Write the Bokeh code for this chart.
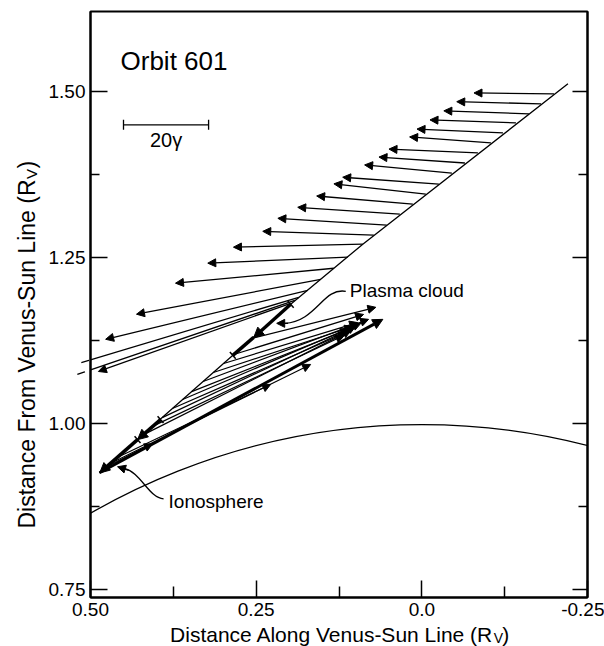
import numpy as np
from bokeh.plotting import figure
from bokeh.layouts import row, column
from bokeh.models import (Range1d, FixedTicker, CustomJSTickFormatter, PrintfTickFormatter,
                          LinearAxis, Arrow, NormalHead, TeeHead, ColumnDataSource, Label)
from bokeh.core.properties import value
from bokeh.embed import file_html
from bokeh.resources import INLINE

FONT = "Liberation Sans"
GAMMA = 0.1284 / 20.0   # R_V per gamma (length of the 20 gamma scale bar)

# ---- orbit track (R_V) ----
orbit_x = [-0.2205, 0.0891, 0.1979, 0.4864]
orbit_y = [1.512, 1.2704, 1.1798, 0.926]

# ---- field vectors above the plasma cloud (tail position, components in gamma) ----
up_x = [-0.1994, -0.1798, -0.1616, -0.1420, -0.1224, -0.1042, -0.0846, -0.0650, -0.0453,
        -0.0257, -0.0060, 0.0136, 0.0332, 0.0529, 0.0725, 0.0891, 0.1118, 0.1329, 0.1526,
        0.1722, 0.1858, 0.1918, 0.1979]
up_y = [1.4970, 1.4819, 1.4668, 1.4532, 1.4381, 1.4230, 1.4079, 1.3927, 1.3776, 1.3610,
        1.3459, 1.3308, 1.3157, 1.2991, 1.2840, 1.2704, 1.2508, 1.2341, 1.2175, 1.2009,
        1.1903, 1.1858, 1.1813]
up_bx = [18.8, 19.8, 20.0, 20.2, 20.2, 19.1, 20.9, 20.2, 20.5, 22.6, 21.6, 22.6, 24.0, 25.6,
         26.1, 30.4, 32.9, 37.2, 43.3, 47.5, 51.1, 51.1, 45.2]
up_by = [0.2, 0.5, 0.7, 0.7, 0.9, 1.4, 0.9, 1.4, 1.9, 1.6, 2.4, 1.9, 1.6, 1.6, 0.9, -0.7,
         -1.4, -3.5, -8.2, -11.5, -15.3, -17.4, -16.0]

# ---- field vectors below the plasma cloud ----
lo_x = [0.2562, 0.2837, 0.2991, 0.3147, 0.3301, 0.3473, 0.3610, 0.3764, 0.3918, 0.4073,
        0.4228, 0.4789, 0.4606, 0.4708]
lo_y = [1.1284, 1.1042, 1.0906, 1.0770, 1.0634, 1.0483, 1.0363, 1.0227, 1.0091, 0.9955,
        0.9819, 0.9335, 0.9486, 0.9396]
lo_bx = [-29.1, -30.5, -31.5, -32.8, -38.9, -36.9, -41.9, -41.0, -45.5, -45.1, -49.2,
         -11.3, -36.2, -47.2]
lo_by = [7.3, 9.4, 9.6, 10.8, 14.6, 14.6, 17.9, 17.9, 21.4, 21.4, 24.7, 5.6, 17.2, 23.3]

# heavy vector from the lowest point
hv_x, hv_y, hv_bx, hv_by = [0.4864], [0.926], [-66.6], [36.0]

# heavy vectors aligned with the orbit (plasma cloud and low altitude)
al_x = [0.1979, 0.3943, 0.4290]
al_y = [1.1798, 1.0060, 0.9758]
al_bx = [8.7, 5.4, 8.9]
al_by = [-7.8, -4.7, -7.8]
tee_x, tee_y, tee_bx, tee_by = [0.2538], [1.1299], [4.9], [-4.2]

# ionosphere radius (R_V)
iono_r = 1.0

# annotations
scale_x = [0.4502, 0.3218]
scale_y = 1.4502
plasma_curve = dict(x0=0.1148, y0=1.1994, cx0=0.1495, cy0=1.2054, cx1=0.1586, cy1=1.1541,
                    x1=0.2069, y1=1.1511, tipx=0.2190)
iono_curve = dict(x0=0.3897, y0=0.8867, cx0=0.4124, cy0=0.8882, cx1=0.4245, cy1=0.9275,
                  x1=0.4486, y1=0.9320, tipx=0.4592, tipy=0.9350)

x_ticks = [0.5, 0.25, 0.0, -0.25]
x_minor = [0.375, 0.125, -0.125]
y_ticks = [0.75, 1.0, 1.25, 1.5]
y_minor = [0.875, 1.125, 1.375]

x_title = "Distance Along Venus-Sun Line (R"
y_title = "Distance From Venus-Sun Line (R"
sub = "V"


def vec_source(x, y, bx, by):
    x = np.asarray(x, float); y = np.asarray(y, float)
    return ColumnDataSource(dict(x0=x, y0=y,
                                 x1=x + np.asarray(bx, float) * GAMMA,
                                 y1=y + np.asarray(by, float) * GAMMA))


def bare(width, height):
    f = figure(width=width, height=height, x_range=Range1d(0, width), y_range=Range1d(0, height),
               x_axis_type=None, y_axis_type=None, output_backend="svg", toolbar_location=None,
               min_border=0, outline_line_color=None)
    f.xgrid.visible = False
    f.ygrid.visible = False
    f.background_fill_color = "white"
    f.border_fill_color = "white"
    return f


p = figure(frame_width=497, frame_height=586,
           x_range=Range1d(0.5, -0.25), y_range=Range1d(0.738, 1.621),
           x_axis_type=None, y_axis_type=None,
           output_backend="svg", toolbar_location=None,
           min_border_left=46, min_border_top=11, min_border_right=17, min_border_bottom=27)
p.xgrid.visible = False
p.ygrid.visible = False
p.outline_line_color = "black"
p.outline_line_width = 2
p.background_fill_color = "white"
p.border_fill_color = "white"

xax = LinearAxis(ticker=FixedTicker(ticks=x_ticks, minor_ticks=x_minor),
                 formatter=CustomJSTickFormatter(code="return tick == 0 ? '0.0' : tick.toFixed(2);"))
yax = LinearAxis(ticker=FixedTicker(ticks=y_ticks, minor_ticks=y_minor),
                 formatter=PrintfTickFormatter(format="%.2f"))
rax = LinearAxis(ticker=FixedTicker(ticks=y_ticks, minor_ticks=y_minor),
                 formatter=CustomJSTickFormatter(code="return '';"))
for ax, maj, mnr in ((xax, 17, 11), (yax, 17, 9), (rax, 15, 9)):
    ax.axis_line_width = 2
    ax.axis_line_color = "black"
    ax.major_tick_in = maj
    ax.major_tick_out = 0
    ax.minor_tick_in = mnr
    ax.minor_tick_out = 0
    ax.major_tick_line_width = 1.5
    ax.minor_tick_line_width = 1.5
    ax.major_label_text_font = FONT
    ax.major_label_text_font_size = "19px"
    ax.major_label_text_color = "black"
    ax.major_label_standoff = 5
p.add_layout(xax, "below")
p.add_layout(yax, "left")
p.add_layout(rax, "right")

# ionosphere
p.circle(x=[0.0], y=[0.0], radius=iono_r, fill_color=None, line_color="black", line_width=1.3)

# orbit
p.line(orbit_x, orbit_y, line_color="black", line_width=1.3)


def head(size=8):
    return NormalHead(size=size, fill_color="black", line_color="black", line_width=1)


p.add_layout(Arrow(end=head(8), source=vec_source(up_x, up_y, up_bx, up_by),
                   x_start="x0", y_start="y0", x_end="x1", y_end="y1",
                   line_color="black", line_width=1.3))
p.add_layout(Arrow(end=head(8), source=vec_source(lo_x, lo_y, lo_bx, lo_by),
                   x_start="x0", y_start="y0", x_end="x1", y_end="y1",
                   line_color="black", line_width=1.2))
p.add_layout(Arrow(end=head(10), source=vec_source(hv_x, hv_y, hv_bx, hv_by),
                   x_start="x0", y_start="y0", x_end="x1", y_end="y1",
                   line_color="black", line_width=3))
p.add_layout(Arrow(start=TeeHead(size=9, line_width=1.5), end=head(10),
                   source=vec_source(al_x, al_y, al_bx, al_by),
                   x_start="x0", y_start="y0", x_end="x1", y_end="y1",
                   line_color="black", line_width=3.5))
p.add_layout(Arrow(end=TeeHead(size=9, line_width=1.5),
                   source=vec_source(tee_x, tee_y, tee_bx, tee_by),
                   x_start="x0", y_start="y0", x_end="x1", y_end="y1",
                   line_color="black", line_width=3.5))

# scale bar
p.add_layout(Arrow(start=TeeHead(size=10, line_width=1.3), end=TeeHead(size=10, line_width=1.3),
                   x_start=scale_x[0], y_start=scale_y, x_end=scale_x[1], y_end=scale_y,
                   line_color="black", line_width=1.3))
p.add_layout(Label(x=(scale_x[0] + scale_x[1]) / 2, y=scale_y, text="20\u03b3",
                   text_font=FONT, text_font_size="20px", text_align="center",
                   text_baseline="top", y_offset=-4, text_color="black"))

# pointers
for c in (plasma_curve, iono_curve):
    p.bezier(x0=[c["x0"]], y0=[c["y0"]], x1=[c["x1"]], y1=[c["y1"]],
             cx0=[c["cx0"]], cy0=[c["cy0"]], cx1=[c["cx1"]], cy1=[c["cy1"]],
             line_color="black", line_width=1.3)
p.add_layout(Arrow(end=head(8), x_start=plasma_curve["x1"] - 0.005, y_start=plasma_curve["y1"],
                   x_end=plasma_curve["tipx"], y_end=plasma_curve["y1"],
                   line_color="black", line_width=1.3))
p.add_layout(Arrow(end=head(8), x_start=iono_curve["x1"] - 0.006, y_start=iono_curve["y1"] - 0.002,
                   x_end=iono_curve["tipx"], y_end=iono_curve["tipy"],
                   line_color="black", line_width=1.3))

# texts
p.add_layout(Label(x=0.4547, y=1.5468, text="Orbit 601", text_font=FONT, text_font_size="26px",
                   text_align="left", text_baseline="middle", text_color="black"))
p.add_layout(Label(x=0.1088, y=1.2009, text="Plasma cloud", text_font=FONT, text_font_size="19px",
                   text_align="left", text_baseline="middle", text_color="black"))
p.add_layout(Label(x=0.3822, y=0.8822, text="Ionosphere", text_font=FONT, text_font_size="19px",
                   text_align="left", text_baseline="middle", text_color="black"))

# ---- x-axis title strip (below the plot) ----
xf = bare(560, 22)
xj, xc = 454.0, 12.5          # junction of "(R" and subscript, text centre line
xf.text(x=[xj], y=[xc], text=[x_title], text_font=value(FONT), text_font_size="21px",
        text_align="right", text_baseline="middle", text_color="black")
xf.text(x=[xj + 0.5], y=[xc - 3.5], text=[sub], text_font=value(FONT), text_font_size="14px",
        text_align="left", text_baseline="middle", text_color="black")
xf.text(x=[xj + 10], y=[xc], text=[")"], text_font=value(FONT), text_font_size="21px",
        text_align="left", text_baseline="middle", text_color="black")

# ---- y-axis title strip (left of the plot) ----
yf = bare(44, 624)
yj, yc = 445.0, 26.0
yf.text(x=[yc], y=[yj], text=[y_title], text_font=value(FONT), text_font_size="23px",
        text_align="right", text_baseline="middle", angle=np.pi / 2, text_color="black")
yf.text(x=[yc + 4.5], y=[yj + 0.5], text=[sub], text_font=value(FONT), text_font_size="15px",
        text_align="left", text_baseline="middle", angle=np.pi / 2, text_color="black")
yf.text(x=[yc], y=[yj + 11], text=[")"], text_font=value(FONT), text_font_size="23px",
        text_align="left", text_baseline="middle", angle=np.pi / 2, text_color="black")

layout = row(yf, column(p, xf, spacing=0), spacing=0)
open("out.html", "w").write(file_html(layout, INLINE))
